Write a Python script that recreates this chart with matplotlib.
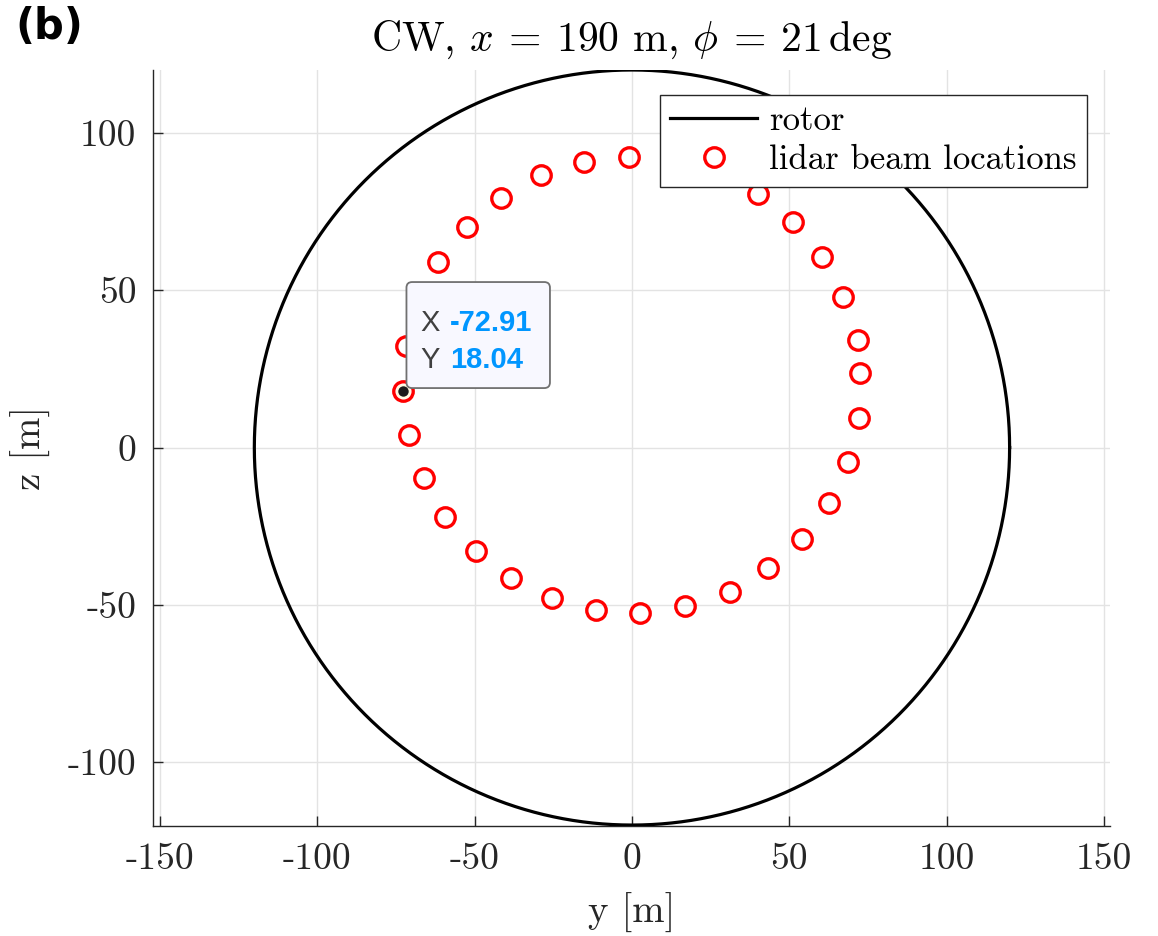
import matplotlib
matplotlib.use("Agg")
import matplotlib.pyplot as plt
import numpy as np
from matplotlib.patches import FancyBboxPatch

plt.rcParams['font.family'] = 'serif'
plt.rcParams['font.serif'] = ['cmr10']
plt.rcParams['mathtext.fontset'] = 'cm'
plt.rcParams['axes.unicode_minus'] = False
plt.rcParams['axes.formatter.use_mathtext'] = True

# ---- data ----
rotor_radius = 120.0
beam_y = [-0.8, 13.6, 27.5, 40.2, 51.3, 60.5, 67.2, 71.7, 72.6, 72.3, 68.5, 62.5,
          53.9, 43.1, 31.0, 17.0, 2.7, -11.3, -25.3, -38.3, -49.7, -59.3, -66.2,
          -71.0, -72.91, -71.7, -67.9, -61.5, -52.3, -41.5, -28.8, -15.1]
beam_z = [92.4, 91.4, 87.3, 80.6, 71.7, 60.6, 47.9, 34.2, 23.7, 9.4, -4.6, -17.6,
          -29.1, -38.3, -45.9, -50.4, -52.6, -51.7, -47.9, -41.5, -32.9, -22.1, -9.7,
          4.0, 18.04, 32.3, 46.0, 59.0, 70.1, 79.3, 86.6, 90.8]
tip_y, tip_z = -72.91, 18.04
xticks = [-150, -100, -50, 0, 50, 100, 150]
yticks = [-100, -50, 0, 50, 100]
title = r"CW, $x\:=\:190$ m, $\phi\:=\:21\,$deg"

fig = plt.figure(figsize=(11.58, 9.36), dpi=100)
ax = fig.add_axes([153/1158, 1 - 826/936, (1110-153)/1158, (826-70)/936])

theta = np.linspace(0, 2*np.pi, 721)
ax.plot(rotor_radius*np.cos(theta), rotor_radius*np.sin(theta), color='black', lw=2.3,
        label='rotor', zorder=3)
ax.plot(beam_y, beam_z, linestyle='none', marker='o', markersize=14, markerfacecolor='none',
        markeredgecolor='red', markeredgewidth=2.4, label='lidar beam locations', zorder=4)

ax.set_xlim(-152.2, 151.9)
ax.set_ylim(-120.3, 120.0)
ax.set_xticks(xticks)
ax.set_xticklabels([str(v) for v in xticks])
ax.set_yticks(yticks)
ax.set_yticklabels([str(v) for v in yticks])
ax.tick_params(direction='in', length=7, width=1.0, labelsize=27, colors='#262626',
               pad=12)
for s in ['top', 'right']:
    ax.spines[s].set_visible(False)
for s in ['left', 'bottom']:
    ax.spines[s].set_color('#262626')
    ax.spines[s].set_linewidth(1.0)
ax.grid(True, color='#e3e3e3', lw=1.0, zorder=0)
ax.set_axisbelow(True)

ax.set_xlabel('y [m]', fontsize=28, color='#262626', labelpad=12)
ax.set_ylabel('z [m]', fontsize=28, color='#262626', labelpad=12)
ax.set_title(title, fontsize=30, pad=14, color='black')

leg = ax.legend(loc='upper right', bbox_to_anchor=(1087/1158, 1 - 95/936),
                bbox_transform=fig.transFigure, fontsize=25, frameon=True,
                fancybox=False, edgecolor='#262626', framealpha=1.0,
                borderpad=0.3, handlelength=2.5, handletextpad=0.35, labelspacing=0.22,
                borderaxespad=0)
leg.get_frame().set_linewidth(1.0)
leg.set_zorder(10)

# data tip
ax.plot([tip_y], [tip_z], marker='o', markersize=9, markerfacecolor='#1a1a1a',
        markeredgecolor='#fffbe0', markeredgewidth=1.5, zorder=6)
bx0, bz0 = -71.66, 18.9
bw, bh = 45.6, 33.7
box = FancyBboxPatch((bx0, bz0), bw, bh, boxstyle='round,pad=0,rounding_size=1.8',
                     facecolor='#f8f8ff', edgecolor='#707070', lw=1.3, zorder=7,
                     mutation_aspect=1)
ax.add_patch(box)
tipfont = 'Liberation Sans'
ax.text(bx0 + 4.5, bz0 + 21.6, 'X', fontsize=21, family=tipfont, color='#404040',
        va='center_baseline', ha='left', zorder=8)
ax.text(bx0 + 13.8, bz0 + 21.6, '-72.91', fontsize=21, family=tipfont,
        fontweight='bold', color='#0096ff', va='center_baseline', ha='left', zorder=8)
ax.text(bx0 + 4.5, bz0 + 9.9, 'Y', fontsize=21, family=tipfont, color='#404040',
        va='center_baseline', ha='left', zorder=8)
ax.text(bx0 + 13.8, bz0 + 9.9, '18.04', fontsize=21, family=tipfont,
        fontweight='bold', color='#0096ff', va='center_baseline', ha='left', zorder=8)

fig.text(15/1158, 1 - 27/936, '(b)', fontsize=30, fontweight='bold', family='DejaVu Sans',
         va='center', ha='left')

fig.savefig('out.png', dpi=100)
